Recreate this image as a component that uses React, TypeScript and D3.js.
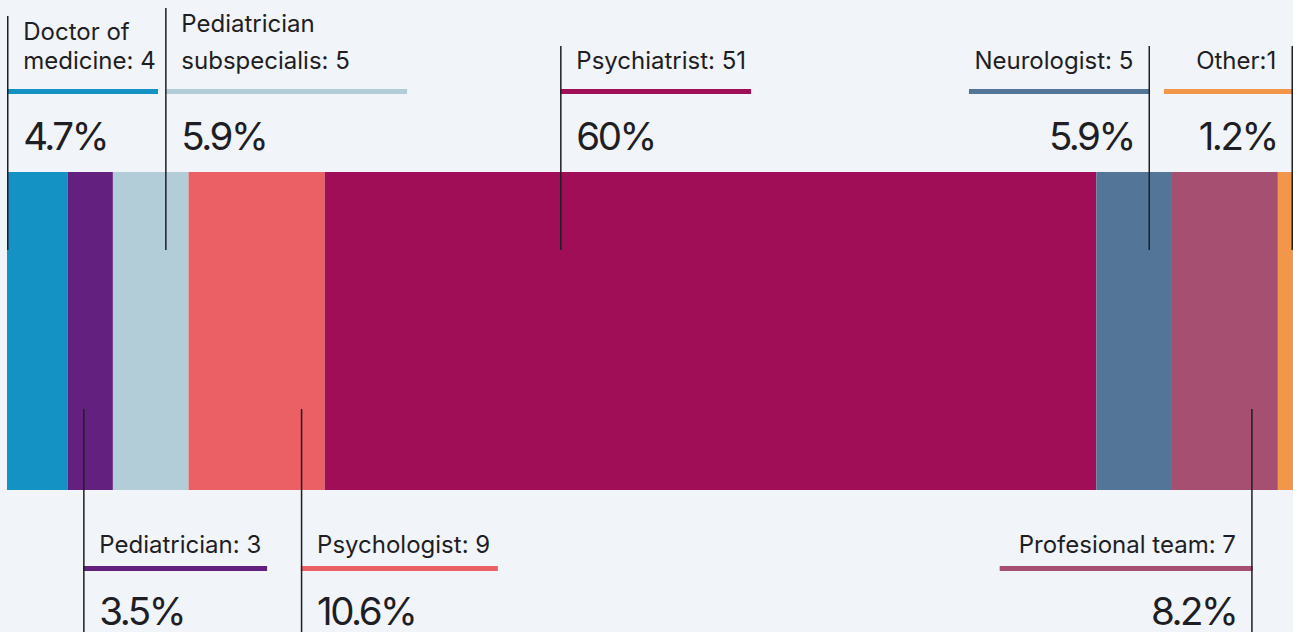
import React from 'react';
import * as d3 from 'd3';

// counts per specialist type, in bar order (left to right)
const categories = [
  'Doctor of medicine',
  'Pediatrician',
  'Pediatrician subspecialis',
  'Psychologist',
  'Psychiatrist',
  'Neurologist',
  'Profesional team',
  'Other',
];
const counts = [4, 3, 5, 9, 51, 5, 7, 1];
const colors = ['#1592c4', '#63207e', '#b2cdd8', '#ea6064', '#a10e58', '#537698', '#a64f70', '#f2964a'];
const labelLines = [
  ['Doctor of', 'medicine: 4'],
  ['Pediatrician: 3'],
  ['Pediatrician', 'subspecialis: 5'],
  ['Psychologist: 9'],
  ['Psychiatrist: 51'],
  ['Neurologist: 5'],
  ['Profesional team: 7'],
  ['Other:1'],
];

// callout placement: side of the bar, where the leader sits inside the segment, text alignment
const callouts = [
  { side: 'top', at: 0, align: 'left', rule: 151, lineTop: 16, firstBase: 40 },
  { side: 'bottom', at: 0.36, align: 'left', rule: 184 },
  { side: 'top', at: 0.7, align: 'left', rule: 242, lineTop: 8, firstBase: 32 },
  { side: 'bottom', at: 0.83, align: 'left', rule: 197 },
  { side: 'top', at: 0.306, align: 'left', rule: 191, lineTop: 46 },
  { side: 'top', at: 0.7, align: 'right', rule: 181, lineTop: 46 },
  { side: 'bottom', at: 0.755, align: 'right', rule: 253 },
  { side: 'top', at: 1, align: 'right', rule: 129, lineTop: 46 },
];

const W = 1293;
const H = 632;
const barTop = 172;
const barBottom = 490;
const font = 'Inter, "Noto Sans", sans-serif';
const ink = '#1e1e24';

export default function App() {
  const total = d3.sum(counts);
  const x = d3.scaleLinear().domain([0, total]).range([7, W]);
  const starts = d3.cumsum([0, ...counts]);
  const pct = d3.format('.1~f');

  return (
    <svg width={W} height={H} style={{ position: 'fixed', left: 0, top: 0 }}>
      <rect width={W} height={H} fill="#f1f4f8" />
      {counts.map((c, i) => (
        <rect
          key={categories[i]}
          x={x(starts[i])}
          y={barTop}
          width={x(starts[i] + c) - x(starts[i])}
          height={barBottom - barTop}
          fill={colors[i]}
        />
      ))}
      {callouts.map((o, i) => {
        const x0 = x(starts[i]);
        const x1 = x(starts[i] + counts[i]);
        const lx = Math.max(x0 + 0.75, Math.min(x1 - 0.75, x0 + o.at * (x1 - x0)));
        const left = o.align === 'left';
        const tx = left ? lx + 15.5 : lx - 16;
        const anchor = left ? 'start' : 'end';
        const ruleX = left ? lx - 0.75 : lx + 0.75 - o.rule;
        const top = o.side === 'top';
        const lastBase = top ? 69 : 553;
        const ruleY = top ? 89 : 566;
        const pctBase = top ? 150 : 625;
        const lines = labelLines[i];
        return (
          <g key={'c' + i}>
            <rect x={ruleX} y={ruleY} width={o.rule} height={5} fill={colors[i]} />
            <line
              x1={lx}
              x2={lx}
              y1={top ? o.lineTop : 409}
              y2={top ? 250 : H}
              stroke={ink}
              strokeWidth={1.5}
            />
            {lines.map((t, j) => (
              <text
                key={j}
                x={tx}
                y={lines.length > 1 && j === 0 ? o.firstBase : lastBase}
                textAnchor={anchor}
                fontFamily={font}
                fontSize={24}
                fill={ink}
              >
                {t}
              </text>
            ))}
            <text
              x={left ? tx : tx + 0.5}
              y={pctBase}
              textAnchor={anchor}
              fontFamily={font}
              fontSize={38.5}
              letterSpacing={-2.5}
              fill={ink}
            >
              {pct((counts[i] / total) * 100)}%
            </text>
          </g>
        );
      })}
    </svg>
  );
}
